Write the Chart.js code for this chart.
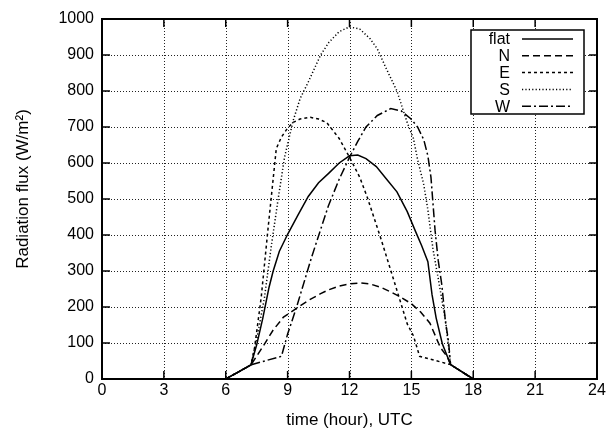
<!DOCTYPE html>
<html>
<head>
<meta charset="utf-8">
<script src="https://cdn.jsdelivr.net/npm/chart.js@4.4.1/dist/chart.umd.min.js"></script>
<style>
  html, body { margin: 0; padding: 0; background: #fff; }
  #wrap { width: 611px; height: 429px; }
</style>
</head>
<body>
<div id="wrap"><canvas id="myChart" width="611" height="429"></canvas></div>
<script>
// values (hour UTC, W/m2)
const seriesNames = ["flat", "N", "E", "S", "W"];
const xTicks = [0, 3, 6, 9, 12, 15, 18, 21, 24];
const yTicks = [0, 100, 200, 300, 400, 500, 600, 700, 800, 900, 1000];

const flatHours = [0, 6, 7.22, 7.5, 7.8, 8.1, 8.3, 8.6, 9.0, 9.5, 10, 10.5, 11, 11.5, 12, 12.4, 12.8, 13.3, 13.8, 14.3, 14.8, 15.2, 15.5, 15.8, 16.0, 16.2, 16.5, 16.9, 18, 24];
const flatFlux  = [0, 0, 39, 95, 170, 255, 300, 355, 402, 455, 507, 545, 572, 600, 620, 622, 612, 590, 555, 520, 465, 410, 370, 326, 235, 170, 98, 40, 0, 0];

const nHours = [0, 6, 7.22, 7.8, 8.3, 8.8, 9.5, 10, 10.6, 11, 11.5, 12, 12.5, 13, 13.5, 14, 14.5, 15, 15.45, 15.9, 16.4, 16.75, 16.9, 18, 24];
const nFlux  = [0, 0, 39, 90, 136, 172, 199, 218, 237, 248, 258, 264, 267, 264, 255, 242, 227, 209, 186, 155, 88, 61, 40, 0, 0];

const eHours = [0, 6, 7.22, 7.4, 7.72, 8.04, 8.29, 8.45, 8.7, 9.0, 9.27, 9.6, 10.1, 10.5, 10.9, 11.5, 12, 12.5, 12.86, 13.5, 14.15, 14.8, 15.1, 15.4, 16.9, 18, 24];
const eFlux  = [0, 0, 39, 88, 227, 412, 551, 640, 672, 697, 713, 722, 727, 722, 712, 668, 616, 560, 505, 394, 274, 153, 120, 63, 40, 0, 0];

const sHours = [0, 6, 7.22, 7.5, 7.88, 8.2, 8.53, 8.85, 9.27, 9.6, 10.0, 10.6, 11.0, 11.5, 12.0, 12.5, 13.0, 13.35, 13.8, 14.3, 14.8, 15.1, 15.3, 15.6, 15.8, 16.05, 16.3, 16.66, 16.9, 18, 24];
const sFlux  = [0, 0, 39, 110, 227, 366, 496, 616, 718, 778, 825, 900, 935, 965, 978, 972, 945, 917, 860, 800, 712, 668, 610, 540, 470, 360, 280, 160, 40, 0, 0];

const wHours = [0, 6, 7.22, 8.0, 8.7, 9.0, 9.43, 10.16, 10.97, 11.5, 12.0, 12.4, 12.8, 13.35, 14.0, 14.5, 14.97, 15.3, 15.6, 15.8, 15.95, 16.15, 16.3, 16.48, 16.65, 16.8, 16.9, 18, 24];
const wFlux  = [0, 0, 39, 52, 63, 125, 199, 338, 480, 555, 616, 660, 700, 732, 751, 745, 723, 700, 665, 620, 560, 412, 330, 260, 160, 105, 40, 0, 0];

const dashes = [[], [7, 4], [3, 3], [1.2, 2.2], [9, 3, 2, 3]];

function pts(h, v) {
    var out = [];
    for (var i = 0; i < h.length; i++) out.push({x: h[i], y: v[i]});
    return out;
}

const allData = [pts(flatHours, flatFlux), pts(nHours, nFlux), pts(eHours, eFlux), pts(sHours, sFlux), pts(wHours, wFlux)];

const font = "'Liberation Sans', Arial, Helvetica, sans-serif";

// dotted grid under the curves
const gridPlugin = {
    id: 'dotgrid',
    beforeDatasetsDraw(chart) {
        const ctx = chart.ctx;
        const a = chart.chartArea;
        const xs = chart.scales.x, ys = chart.scales.y;
        ctx.save();
        ctx.strokeStyle = '#222';
        ctx.lineWidth = 1;
        ctx.setLineDash([1, 2]);
        ctx.beginPath();
        xTicks.forEach(t => {
            const px = Math.round(xs.getPixelForValue(t)) + 0.5;
            ctx.moveTo(px, a.top); ctx.lineTo(px, a.bottom);
        });
        yTicks.forEach(t => {
            const py = Math.round(ys.getPixelForValue(t)) + 0.5;
            ctx.moveTo(a.left, py); ctx.lineTo(a.right, py);
        });
        ctx.stroke();
        ctx.restore();
    }
};

// frame, inward ticks on all four sides, y title and the boxed legend
const framePlugin = {
    id: 'frame',
    afterDraw(chart) {
        const ctx = chart.ctx;
        const a = chart.chartArea;
        const xs = chart.scales.x, ys = chart.scales.y;
        ctx.save();
        ctx.strokeStyle = '#000';
        ctx.lineWidth = 1.5;
        ctx.setLineDash([]);
        ctx.beginPath();
        xTicks.forEach(t => {
            const px = xs.getPixelForValue(t);
            ctx.moveTo(px, a.bottom); ctx.lineTo(px, a.bottom - 8);
            ctx.moveTo(px, a.top); ctx.lineTo(px, a.top + 8);
        });
        yTicks.forEach(t => {
            const py = ys.getPixelForValue(t);
            ctx.moveTo(a.left, py); ctx.lineTo(a.left + 8, py);
            ctx.moveTo(a.right, py); ctx.lineTo(a.right - 8, py);
        });
        ctx.stroke();
        ctx.lineWidth = 2;
        ctx.strokeRect(a.left, a.top, a.right - a.left, a.bottom - a.top);

        // y axis title
        ctx.save();
        ctx.translate(23, 189);
        ctx.rotate(-Math.PI / 2);
        ctx.fillStyle = '#000';
        ctx.font = '17px ' + font;
        ctx.textAlign = 'center';
        ctx.textBaseline = 'middle';
        ctx.fillText('Radiation flux (W/m²)', 0, 0);
        ctx.restore();

        // legend
        const bx = 471, by = 30, bw = 113, bh = 84;
        ctx.fillStyle = '#fff';
        ctx.fillRect(bx, by, bw, bh);
        ctx.lineWidth = 1.5;
        ctx.strokeRect(bx, by, bw, bh);
        ctx.font = '16px ' + font;
        ctx.textAlign = 'right';
        ctx.textBaseline = 'middle';
        chart.data.datasets.forEach((ds, i) => {
            const cy = by + 9 + i * 16.8;
            ctx.fillStyle = '#000';
            ctx.fillText(ds.label, 510, cy + 1);
            ctx.beginPath();
            ctx.setLineDash(dashes[i]);
            ctx.lineWidth = 1.5;
            ctx.moveTo(522, cy);
            ctx.lineTo(573, cy);
            ctx.stroke();
        });
        ctx.restore();
    }
};

const ctx = document.getElementById('myChart').getContext('2d');
const chart = new Chart(ctx, {
    type: 'line',
    data: {
        datasets: seriesNames.map((name, i) => ({
            label: name,
            data: allData[i],
            borderColor: '#000',
            borderWidth: 1.5,
            borderDash: dashes[i],
            pointRadius: 0,
            fill: false,
            tension: 0
        }))
    },
    options: {
        responsive: false,
        animation: false,
        layout: { padding: { top: 19, right: 14, left: 0, bottom: 0 } },
        plugins: {
            legend: { display: false },
            tooltip: { enabled: false }
        },
        scales: {
            x: {
                type: 'linear',
                min: 0,
                max: 24,
                afterBuildTicks: s => { s.ticks = xTicks.map(v => ({value: v})); },
                afterFit: s => { s.height = 50; },
                grid: { display: false, drawTicks: false },
                border: { display: false },
                ticks: { color: '#000', font: { family: font, size: 16 }, padding: 2, maxRotation: 0,
                         callback: v => String(v) },
                title: { display: true, text: 'time (hour), UTC', color: '#000',
                         font: { family: font, size: 17, lineHeight: 1 }, padding: { top: 0, bottom: 0 } }
            },
            y: {
                min: 0,
                max: 1000,
                afterBuildTicks: s => { s.ticks = yTicks.map(v => ({value: v})); },
                afterFit: s => { s.width = 102; },
                grid: { display: false, drawTicks: false },
                border: { display: false },
                ticks: { color: '#000', font: { family: font, size: 16 }, padding: 8,
                         callback: v => String(v) }
            }
        }
    },
    plugins: [gridPlugin, framePlugin]
});
</script>
</body>
</html>
